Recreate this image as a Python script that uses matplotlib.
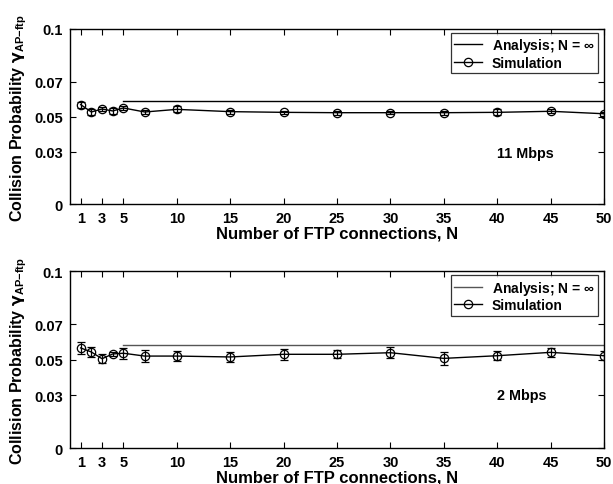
#!/usr/bin/python
# -*- coding: utf-8 -*-
import matplotlib as mpl
mpl.use('Agg')
import matplotlib.pyplot as plt
from matplotlib.lines import Line2D

########data########
n_ftp = [1, 2, 3, 4, 5, 7, 10, 15, 20, 25, 30, 35, 40, 45, 50]
# 11 Mbps
sim_11 = [0.0569, 0.0527, 0.0544, 0.0533, 0.0550, 0.0527, 0.0542, 0.0529,
          0.0525, 0.0523, 0.0523, 0.0523, 0.0525, 0.0531, 0.0517]
err_11 = [0.0017, 0.0015, 0.0010, 0.0017, 0.0013, 0.0010, 0.0017, 0.0012,
          0.0010, 0.0012, 0.0008, 0.0012, 0.0017, 0.0012, 0.0010]
ana_11 = 0.0587
# 2 Mbps
sim_2 = [0.0567, 0.0544, 0.0506, 0.0533, 0.0537, 0.0521, 0.0521, 0.0516,
         0.0531, 0.0531, 0.0540, 0.0508, 0.0523, 0.0542, 0.0523]
err_2 = [0.0032, 0.0030, 0.0025, 0.0010, 0.0030, 0.0035, 0.0030, 0.0030,
         0.0030, 0.0022, 0.0030, 0.0035, 0.0025, 0.0025, 0.0025]
ana_2 = 0.0585
ana_x = [5, 50]

x_ticks = [1, 3, 5, 10, 15, 20, 25, 30, 35, 40, 45, 50]
y_ticks = [0, 0.03, 0.05, 0.07, 0.1]
y_labels = ['0', '0.03', '0.05', '0.07', '0.1']

plt.rcParams['font.family'] = ['Liberation Sans', 'DejaVu Sans']
plt.rcParams['font.weight'] = 'bold'
plt.rcParams['mathtext.fontset'] = 'custom'
plt.rcParams['mathtext.rm'] = 'Liberation Sans:bold'
plt.rcParams['mathtext.it'] = 'DejaVu Sans'


def draw_panel(ax, sim, err, ana, ana_color, rate, rate_pos):
    ax.plot(ana_x, [ana, ana], '-', color=ana_color, lw=1.0)
    ax.errorbar(n_ftp, sim, yerr=err, fmt='-o', color='black', mfc='none',
                ms=6, mew=0.9, lw=1.0, elinewidth=0.9, capsize=3)
    ax.set_xlim(0, 50)
    ax.set_ylim(0, 0.1)
    ax.set_xticks(x_ticks)
    ax.set_yticks(y_ticks)
    ax.set_yticklabels(y_labels)
    ax.tick_params(direction='in', top=True, right=True, length=4,
                   labelsize=10.5, width=0.8, pad=5)
    for lab in ax.get_xticklabels() + ax.get_yticklabels():
        lab.set_fontweight('bold')
    for sp in ax.spines.values():
        sp.set_linewidth(1.0)
    ax.set_xlabel('Number of FTP connections, N', fontsize=12,
                  fontweight='bold', labelpad=0)
    ax.set_ylabel(r'Collision Probability $\mathit{\gamma}_{\rm AP{-}ftp}$',
                  fontsize=11.5, fontweight='bold', labelpad=4)
    ax.text(rate_pos[0], rate_pos[1], rate, fontsize=10.4, fontweight='bold',
            ha='center', va='center')
    # legend handles: plain line, line with open circle
    handles = [Line2D([], [], color=ana_color, lw=1.0),
               Line2D([], [], color='black', lw=1.0, marker='o', mfc='none',
                      ms=6, mew=0.9)]
    leg = ax.legend(handles, [r'Analysis; N = $\infty$', 'Simulation'],
                    loc='upper right', fontsize=10, frameon=True,
                    fancybox=False, edgecolor='black', borderpad=0.25,
                    handlelength=2.0, handletextpad=0.7, labelspacing=0.1,
                    borderaxespad=0, bbox_to_anchor=(0.989, 0.978))
    leg.get_frame().set_linewidth(0.9)
    for t in leg.get_texts():
        t.set_fontweight('bold')


fig = plt.figure(figsize=(6.13, 4.85), dpi=100)
ax1 = fig.add_axes([0.1142, 0.5763, 0.8711, 0.3619])
ax2 = fig.add_axes([0.1142, 0.0736, 0.8711, 0.365])
draw_panel(ax1, sim_11, err_11, ana_11, 'black', '11 Mbps', (42.6, 0.0293))
draw_panel(ax2, sim_2, err_2, ana_2, '#555555', '2 Mbps', (42.3, 0.0303))
fig.savefig('out.png', dpi=100)
